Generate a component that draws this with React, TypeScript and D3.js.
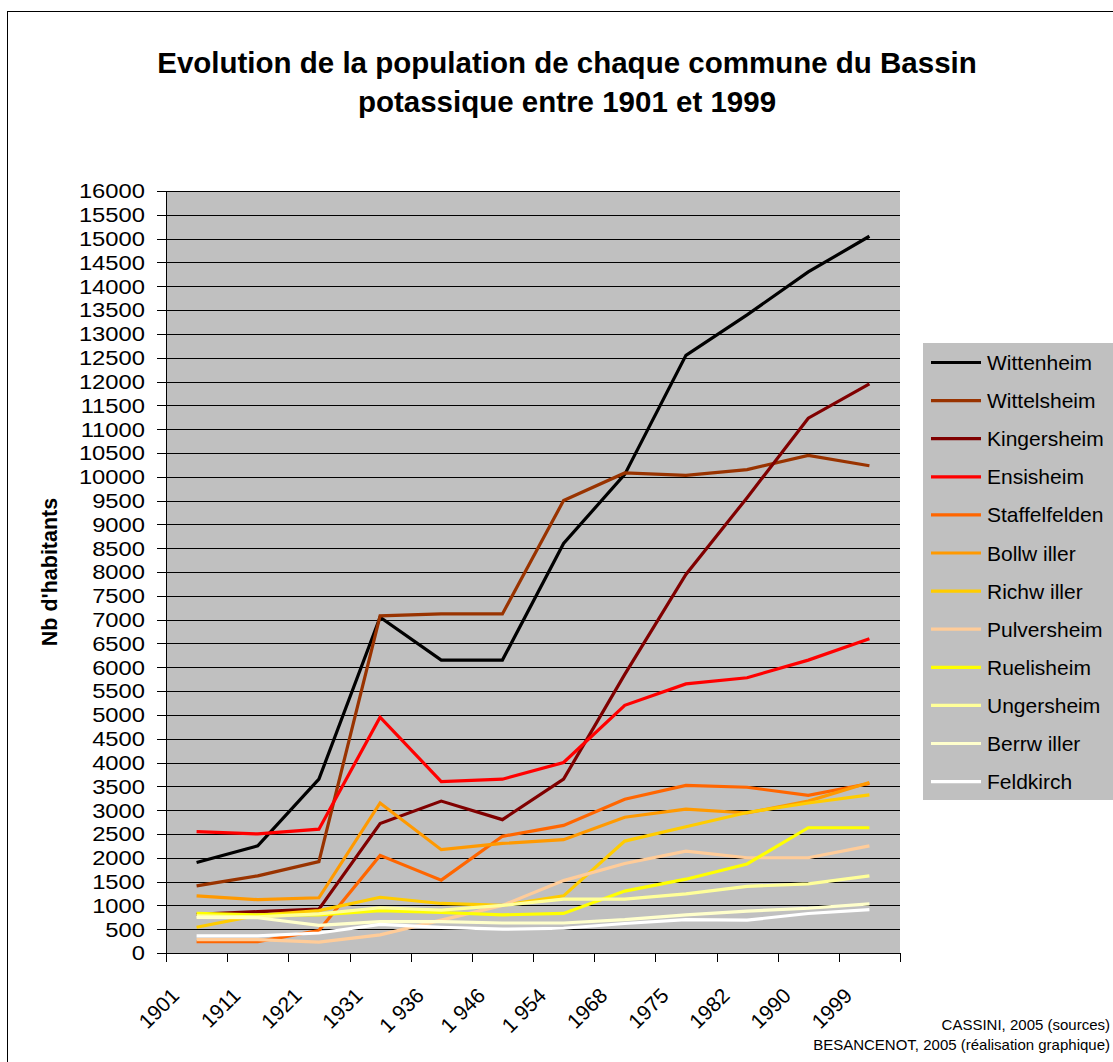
import * as d3 from 'd3';

// categories (x axis) as written on the chart
const years = ["1901", "1911", "1921", "1931", "1 936", "1 946", "1 954", "1968", "1975", "1982", "1990", "1999"];

// population per commune
const wittenheim = [1900, 2250, 3650, 7050, 6150, 6150, 8600, 10050, 12550, 13400, 14300, 15050];
const wittelsheim = [1410, 1620, 1920, 7080, 7120, 7120, 9500, 10080, 10030, 10150, 10450, 10230];
const kingersheim = [810, 870, 920, 2720, 3190, 2800, 3650, 5850, 7950, 9560, 11230, 11950];
const ensisheim = [2550, 2500, 2600, 4950, 3600, 3650, 4000, 5200, 5650, 5780, 6150, 6600];
const staffelfelden = [240, 240, 470, 2050, 1530, 2450, 2680, 3230, 3520, 3480, 3310, 3560];
const bollwiller = [1200, 1120, 1160, 3150, 2170, 2300, 2380, 2850, 3020, 2940, 3190, 3580];
const richwiller = [540, 790, 890, 1170, 1040, 1000, 1200, 2350, 2650, 2950, 3150, 3320];
const pulversheim = [280, 280, 230, 380, 690, 1000, 1520, 1880, 2140, 2000, 2000, 2250];
const ruelisheim = [830, 800, 800, 890, 850, 800, 830, 1300, 1550, 1870, 2630, 2630];
const ungersheim = [780, 760, 820, 950, 900, 1000, 1130, 1130, 1240, 1400, 1450, 1620];
const berrwiller = [750, 740, 580, 660, 660, 630, 630, 700, 800, 880, 940, 1030];
const feldkirch = [360, 360, 420, 600, 540, 500, 520, 620, 700, 690, 830, 910];

const yTicks = d3.range(0, 16001, 500);

const series = [
  { name: "Wittenheim", values: wittenheim, color: "#000000" },
  { name: "Wittelsheim", values: wittelsheim, color: "#993300" },
  { name: "Kingersheim", values: kingersheim, color: "#800000" },
  { name: "Ensisheim", values: ensisheim, color: "#ff0000" },
  { name: "Staffelfelden", values: staffelfelden, color: "#ff6600" },
  { name: "Bollw iller", values: bollwiller, color: "#ff9900" },
  { name: "Richw iller", values: richwiller, color: "#ffcc00" },
  { name: "Pulversheim", values: pulversheim, color: "#ffcc99" },
  { name: "Ruelisheim", values: ruelisheim, color: "#ffff00" },
  { name: "Ungersheim", values: ungersheim, color: "#ffff99" },
  { name: "Berrw iller", values: berrwiller, color: "#ffffcc" },
  { name: "Feldkirch", values: feldkirch, color: "#ffffff" },
];

const W = 1113;
const H = 1062;
const plot = { left: 166, right: 900, top: 191, bottom: 953 };
const font = "'Liberation Sans', Arial, sans-serif";

export default function App() {
  const x = d3.scaleBand<string>().domain(years).range([plot.left, plot.right]).padding(0);
  const y = d3.scaleLinear().domain([0, 16000]).range([plot.bottom, plot.top]);
  const cx = (i: number) => (x(years[i]) as number) + x.bandwidth() / 2;

  const line = d3.line<number>()
    .x((_, i) => cx(i))
    .y(d => y(d));

  const boundaries = years.map(c => x(c) as number).concat([plot.right]);

  return (
    <svg width={W} height={H} style={{ position: 'absolute', left: 0, top: 0, background: '#fff' }}
      fontFamily={font}>
      <rect x={7.5} y={11.5} width={1110} height={1060} fill="none" stroke="#000" strokeWidth={1} />

      <text x={567} y={73} textAnchor="middle" fontSize={29.5} fontWeight="bold">
        Evolution de la population de chaque commune du Bassin
      </text>
      <text x={567} y={112} textAnchor="middle" fontSize={29.5} fontWeight="bold">
        potassique entre 1901 et 1999
      </text>

      {/* plot area */}
      <rect x={plot.left} y={plot.top} width={plot.right - plot.left} height={plot.bottom - plot.top} fill="#c0c0c0" />
      {yTicks.map(t => (
        <line key={'g' + t} x1={plot.left} x2={plot.right} y1={Math.round(y(t)) + 0.5} y2={Math.round(y(t)) + 0.5}
          stroke="#000" strokeWidth={1} />
      ))}

      {/* y axis */}
      <line x1={plot.left + 0.5} x2={plot.left + 0.5} y1={plot.top} y2={plot.bottom} stroke="#000" />
      {yTicks.map(t => (
        <g key={'y' + t}>
          <line x1={157} x2={plot.left} y1={Math.round(y(t)) + 0.5} y2={Math.round(y(t)) + 0.5} stroke="#000" />
          <text transform={`translate(145,${y(t)}) scale(1.16,1)`} dy="0.36em" textAnchor="end" fontSize={20.5}>{t}</text>
        </g>
      ))}
      <text transform={`translate(57,572) rotate(-90)`} textAnchor="middle" fontSize={21.5} fontWeight="bold">
        Nb d'habitants
      </text>

      {/* x axis */}
      <line x1={plot.left} x2={plot.right} y1={plot.bottom + 0.5} y2={plot.bottom + 0.5} stroke="#000" />
      {boundaries.map((b, i) => (
        <line key={'xt' + i} x1={Math.round(b) + 0.5} x2={Math.round(b) + 0.5} y1={plot.bottom} y2={plot.bottom + 9} stroke="#000" />
      ))}
      {years.map((c, i) => (
        <text key={'xl' + c} transform={`translate(${cx(i) - 16},997) rotate(-45)`} textAnchor="end" fontSize={21}>
          {c}
        </text>
      ))}

      {/* series */}
      {series.map(s => (
        <path key={s.name} d={line(s.values) as string} fill="none" stroke={s.color} strokeWidth={3.2}
          strokeLinejoin="miter" />
      ))}

      {/* legend */}
      <rect x={923} y={343} width={190} height={457} fill="#c0c0c0" />
      {series.map((s, i) => {
        const ly = 362.5 + i * 38.1;
        return (
          <g key={'lg' + s.name}>
            <line x1={931} x2={981} y1={ly} y2={ly} stroke={s.color} strokeWidth={3.2} />
            <text x={987} y={ly} dy="0.36em" fontSize={21}>{s.name}</text>
          </g>
        );
      })}

      <text x={1110} y={1030} textAnchor="end" fontSize={15}>CASSINI, 2005 (sources)</text>
      <text x={1110} y={1050} textAnchor="end" fontSize={15}>BESANCENOT, 2005 (réalisation graphique)</text>
    </svg>
  );
}
